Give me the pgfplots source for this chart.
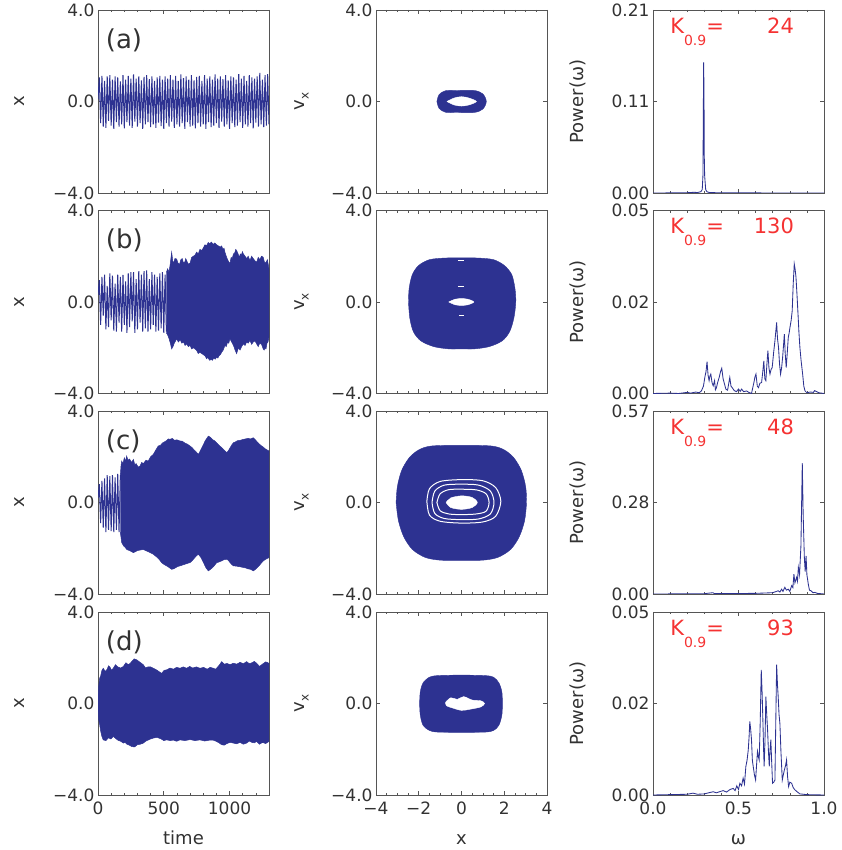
\documentclass[border=0pt]{standalone}
\usepackage{fontspec}
\setmainfont{DejaVu Sans}
\usepackage{pgfplots}
\pgfplotsset{compat=1.18}

\definecolor{trace}{RGB}{45,50,145}
\definecolor{kred}{RGB}{245,50,50}
\definecolor{framegray}{RGB}{85,85,85}
\definecolor{labgray}{RGB}{50,50,50}

\pgfplotsset{
  base/.style={
    scale only axis, width=171pt, height=183pt, anchor=south west,
    axis line style={framegray, line width=0.7pt},
    every tick/.style={framegray, line width=0.6pt},
    major tick length=4pt, minor tick length=2.2pt,
    tick align=inside,
    scaled y ticks=false, scaled x ticks=false,
    tick label style={font=\fontsize{17}{17}\selectfont, text=labgray},
    xticklabel style={inner ysep=1pt, yshift=-6pt},
    yticklabel style={inner ysep=0pt},
    label style={font=\fontsize{18}{18}\selectfont, text=labgray},
    xlabel style={at={(axis description cs:0.5,-0.273)}, anchor=base},
  },
  ts/.style={base, xmin=0, xmax=1300, ymin=-4, ymax=4,
    xtick={0,500,1000}, minor xtick={100,200,...,1300},
    ytick={-4,0,4}, yticklabels={−4.0,0.0,4.0},
    ylabel={x}, ylabel style={at={(axis description cs:-0.456,0.5)}, anchor=center}},
  ph/.style={base, xmin=-4, xmax=4, ymin=-4, ymax=4,
    xtick={-4,-2,0,2,4}, minor xtick={-3.5,-3,...,3.5},
    ytick={-4,0,4}, yticklabels={−4.0,0.0,4.0},
    ylabel={v\raisebox{-4pt}{\fontsize{12}{12}\selectfont x}},
    ylabel style={at={(axis description cs:-0.435,0.5)}, anchor=center}},
  sp/.style={base, xmin=0, xmax=1, ymin=0,
    xtick={0,0.5,1}, minor xtick={0.1,0.2,0.3,0.4,0.6,0.7,0.8,0.9},
    ylabel={Power(ω)},
    ylabel style={at={(axis description cs:-0.439,0.5)}, anchor=center}},
  notx/.style={xticklabels={}},
  trc/.style={trace, line width=0.85pt},
  osc/.style={trace, line width=1.0pt},
  band/.style={fill=trace, draw=trace, line width=0.5pt},
}
\tikzset{
  panel/.style={anchor=base west, inner sep=0pt, text=labgray, font=\fontsize{26}{26}\selectfont},
  kval/.style={inner sep=0pt, text=kred, font=\fontsize{21}{21}\selectfont},
}
\newcommand{\Klabel}[1]{%
  \node[kval, anchor=base west] at (axis description cs:0.10,0.874)
    {K\raisebox{-12pt}{\fontsize{14}{14}\selectfont 0.9}=};
  \node[kval, anchor=base east] at (axis description cs:0.825,0.874) {#1};}

\begin{document}
\begin{tikzpicture}
\path[use as bounding box] (0pt,0pt) rectangle (841pt,850pt);

% ---------------- row (a) ----------------
\begin{axis}[ts, notx, at={(98pt,657pt)}]
\addplot[osc] coordinates {
(0,0.1) (10,1.05) (20,-0.95) (30,1.12) (40,-1.1) (50,0.9) (60,-1.15) (70,1.1) (80,-0.85) (90,1.15)
(100,-1.05) (110,0.95) (120,-1.2) (130,1.1) (140,-0.9) (150,1.05) (160,-1.1) (170,0.88) (180,-1.0) (190,1.15)
(200,-1.18) (210,0.95) (220,-0.9) (230,1.12) (240,-1.05) (250,1.0) (260,-1.15) (270,1.18) (280,-0.88) (290,1.0)
(300,-1.1) (310,1.1) (320,-0.95) (330,0.92) (340,-1.2) (350,1.08) (360,-1.0) (370,1.15) (380,-0.9) (390,0.98)
(400,-1.12) (410,1.1) (420,-1.0) (430,0.9) (440,-1.15) (450,1.05) (460,-0.92) (470,1.12) (480,-1.08) (490,0.95)
(500,-1.2) (510,1.1) (520,-0.95) (530,1.0) (540,-1.1) (550,1.15) (560,-0.88) (570,0.95) (580,-1.15) (590,1.12)
(600,-1.0) (610,0.9) (620,-1.1) (630,1.18) (640,-0.95) (650,1.02) (660,-1.2) (670,1.1) (680,-0.9) (690,0.95)
(700,-1.1) (710,1.15) (720,-1.05) (730,0.92) (740,-1.18) (750,1.08) (760,-0.95) (770,1.12) (780,-1.1) (790,0.9)
(800,-1.0) (810,1.15) (820,-1.2) (830,1.0) (840,-0.9) (850,1.1) (860,-1.12) (870,0.95) (880,-1.05) (890,1.18)
(900,-0.95) (910,1.0) (920,-1.15) (930,1.1) (940,-0.88) (950,0.98) (960,-1.1) (970,1.15) (980,-1.0) (990,0.92)
(1000,-1.2) (1010,1.1) (1020,-0.95) (1030,1.05) (1040,-1.12) (1050,0.95) (1060,-1.05) (1070,1.2) (1080,-0.9) (1090,1.0)
(1100,-1.15) (1110,1.12) (1120,-1.0) (1130,0.9) (1140,-1.1) (1150,1.15) (1160,-0.95) (1170,1.05) (1180,-1.18) (1190,1.0)
(1200,-0.92) (1210,1.1) (1220,-1.1) (1230,1.25) (1240,-1.0) (1250,0.95) (1260,-1.12) (1270,1.15) (1280,-1.05) (1290,1.2)
(1300,-1.0)};
\node[panel] at (axis description cs:0.045,0.79) {(a)};
\end{axis}

\begin{axis}[ph, notx, at={(376pt,657pt)}]
\addplot[fill=trace, draw=trace, smooth] coordinates {
(-1.15,0) (-1.05,0.3) (-0.75,0.47) (-0.2,0.48) (0.6,0.48) (1.0,0.33) (1.16,0) (1.0,-0.33)
(0.6,-0.48) (-0.2,-0.48) (-0.75,-0.47) (-1.05,-0.3) (-1.15,0)};
\addplot[fill=white, draw=white, smooth] coordinates {
(-0.68,0) (-0.35,0.15) (0,0.21) (0.35,0.15) (0.7,0) (0.35,-0.15) (0,-0.2) (-0.35,-0.15) (-0.68,0)};
\end{axis}

\begin{axis}[sp, notx, at={(653pt,657pt)}, ymax=0.21, ytick={0,0.105,0.21}, yticklabels={0.00,0.11,0.21}]
\addplot[trc] coordinates {
(0,0) (0.1,0.0001) (0.2,0.0003) (0.24,0.0008) (0.26,0.0005) (0.28,0.0015) (0.288,0.004)
(0.292,0.02) (0.294,0.08) (0.296,0.15) (0.298,0.12) (0.3,0.04) (0.302,0.02) (0.305,0.012)
(0.308,0.004) (0.315,0.0015) (0.33,0.0005) (0.4,0.0002) (0.5,0.0001) (1,0)};
\Klabel{24}
\end{axis}

% ---------------- row (b) ----------------
\begin{axis}[ts, notx, at={(98pt,456.5pt)}]
\addplot[osc] coordinates {
(0,0.3) (10,0.95) (20,-1.0) (30,1.1) (40,-0.6) (50,1.2) (60,-1.2) (70,0.7) (80,-1.1) (90,1.25)
(100,-0.8) (110,1.15) (120,-1.25) (130,0.8) (140,-1.3) (150,1.2) (160,-0.9) (170,1.1) (180,-1.3) (190,1.18)
(200,-1.0) (210,0.9) (220,-1.35) (230,1.25) (240,-1.1) (250,1.3) (260,-0.85) (270,1.3) (280,-1.35) (290,1.0)
(300,-1.2) (310,1.35) (320,-0.9) (330,1.2) (340,-1.3) (350,1.35) (360,-1.15) (370,1.38) (380,-1.3) (390,1.0)
(400,-1.2) (410,1.3) (420,-1.0) (430,1.2) (440,-1.3) (450,1.1) (460,-1.25) (470,1.25) (480,-1.15) (490,1.3)
(500,-1.35) (510,1.2) (520,-1.3)};
\addplot[band] coordinates {
(520,1.3) (530,1.45) (540,1.3) (550,1.7) (560,2.18) (568,1.8) (575,1.7) (585,1.9) (598,1.88) (608,1.7)
(620,1.65) (630,1.85) (640,1.9) (650,1.7) (660,1.75) (667,1.9) (674,1.81) (687,1.65) (700,1.7) (712,1.95)
(725,2.0) (737,2.05) (750,2.18) (762,2.1) (775,2.3) (787,2.25) (800,2.35) (813,2.5) (826,2.47) (838,2.6)
(850,2.55) (862,2.62) (875,2.52) (888,2.58) (902,2.5) (916,2.45) (930,2.4) (940,2.45) (950,2.3) (958,2.35)
(965,2.18) (975,2.0) (985,1.85) (995,1.75) (1003,1.67) (1012,1.95) (1020,1.9) (1030,2.1) (1040,2.15) (1047,2.3)
(1054,2.25) (1065,2.1) (1075,1.95) (1082,2.1) (1090,2.05) (1098,2.2) (1105,2.1) (1118,2.0) (1130,1.9) (1142,2.0)
(1155,1.81) (1168,2.0) (1180,1.9) (1193,1.8) (1206,1.74) (1218,1.95) (1230,1.85) (1243,2.0) (1256,1.96) (1265,1.75)
(1275,1.7) (1288,1.85) (1300,1.45)
(1300,-1.54) (1292,-1.75) (1285,-1.8) (1277,-2.05) (1270,-2.0) (1263,-2.1) (1256,-2.05) (1243,-1.85) (1230,-1.8) (1218,-1.95)
(1206,-1.83) (1193,-1.7) (1180,-1.75) (1168,-1.85) (1155,-1.68) (1142,-1.8) (1130,-1.75) (1118,-1.9) (1105,-1.83) (1092,-1.95)
(1080,-2.1) (1067,-2.0) (1054,-2.26) (1042,-2.1) (1030,-1.9) (1016,-1.75) (1003,-1.61) (994,-1.8) (985,-1.75) (975,-1.95)
(965,-1.9) (952,-2.1) (940,-2.2) (930,-2.3) (920,-2.35) (911,-2.45) (902,-2.41) (891,-2.5) (880,-2.45) (870,-2.55)
(860,-2.5) (850,-2.55) (840,-2.48) (833,-2.42) (826,-2.48) (813,-2.35) (800,-2.3) (787,-2.25) (775,-2.2) (762,-2.25)
(750,-2.12) (737,-2.05) (725,-2.0) (712,-2.05) (700,-1.9) (687,-1.95) (674,-1.83) (662,-1.9) (650,-1.75) (637,-1.8)
(625,-1.65) (611,-1.75) (598,-1.61) (590,-1.7) (580,-1.8) (570,-1.95) (560,-2.05) (550,-1.8) (540,-1.6) (530,-1.45)
(520,-1.35)};
\node[panel] at (axis description cs:0.045,0.79) {(b)};
\end{axis}

\begin{axis}[ph, notx, at={(376pt,456.5pt)}]
\addplot[fill=trace, draw=trace, smooth] coordinates {
(-2.48,0) (-2.45,0.6) (-2.3,1.2) (-2.0,1.6) (-1.5,1.85) (-0.8,1.92) (0,1.93) (0.8,1.92) (1.5,1.85) (2.0,1.6)
(2.35,1.2) (2.5,0.6) (2.54,0) (2.45,-0.7) (2.25,-1.3) (1.9,-1.7) (1.3,-1.95) (0.6,-2.05) (0,-2.05) (-0.6,-2.05)
(-1.3,-1.95) (-1.9,-1.7) (-2.25,-1.3) (-2.42,-0.7) (-2.48,0)};
\addplot[fill=white, draw=white, smooth] coordinates {
(-0.6,0) (-0.3,0.12) (0,0.15) (0.3,0.12) (0.58,0) (0.3,-0.12) (0,-0.15) (-0.3,-0.12) (-0.6,0)};
\addplot[white, line width=0.9pt] coordinates {(-0.17,1.8) (0.11,1.8)};
\addplot[white, line width=0.9pt] coordinates {(-0.17,0.69) (0.14,0.69)};
\addplot[white, line width=0.9pt] coordinates {(-0.12,-0.59) (0.14,-0.59)};
\end{axis}

\begin{axis}[sp, notx, at={(653pt,456.5pt)}, ymax=0.05, ytick={0,0.025,0.05}, yticklabels={0.00,0.02,0.05}]
\addplot[trc] coordinates {
(0,0) (0.1,0.0001) (0.15,0) (0.2,0.0003) (0.22,0.0001) (0.25,0.0004) (0.27,0.0002) (0.283,0.0007) (0.295,0.002)
(0.303,0.0044) (0.31,0.006) (0.316,0.0087) (0.322,0.005) (0.328,0.0035) (0.333,0.0048) (0.338,0.0053) (0.345,0.003)
(0.352,0.0021) (0.36,0.0035) (0.365,0.001) (0.371,0.0016) (0.378,0.003) (0.387,0.0044) (0.395,0.006) (0.402,0.0069)
(0.41,0.004) (0.418,0.0026) (0.426,0.0012) (0.436,0.0009) (0.442,0.0025) (0.449,0.0044) (0.456,0.002) (0.463,0.0016)
(0.475,0.0008) (0.488,0.0005) (0.5,0.0012) (0.51,0.0006) (0.518,0.0012) (0.53,0.0005) (0.547,0.0007) (0.56,0.0003)
(0.576,0) (0.583,0.0015) (0.59,0.003) (0.596,0.0045) (0.602,0.0053) (0.61,0.002) (0.617,0.0016) (0.625,0.0028)
(0.635,0.003) (0.642,0.006) (0.648,0.0089) (0.654,0.004) (0.66,0.0035) (0.666,0.008) (0.672,0.0117) (0.678,0.007)
(0.684,0.0053) (0.69,0.0065) (0.697,0.0071) (0.705,0.011) (0.713,0.0144) (0.723,0.0194) (0.728,0.015) (0.734,0.0126)
(0.74,0.008) (0.746,0.0053) (0.752,0.007) (0.758,0.0099) (0.763,0.013) (0.768,0.0162) (0.773,0.011) (0.779,0.0071)
(0.785,0.011) (0.791,0.0153) (0.796,0.0165) (0.801,0.0181) (0.808,0.02) (0.814,0.0226) (0.82,0.03) (0.826,0.0354)
(0.831,0.034) (0.836,0.0318) (0.842,0.027) (0.848,0.0217) (0.853,0.017) (0.859,0.0126) (0.866,0.009) (0.875,0.0053)
(0.882,0.002) (0.889,0.0007) (0.9,0.0002) (0.92,0.0004) (0.938,0.0003) (0.945,0.0008) (0.957,0.0005) (0.97,0.0002) (1.0,0)};
\Klabel{130}
\end{axis}

% ---------------- row (c) ----------------
\begin{axis}[ts, notx, at={(98pt,256pt)}]
\addplot[osc] coordinates {
(0,0.2) (10,0.8) (20,-0.9) (30,0.95) (40,-1.1) (50,1.05) (60,-1.3) (70,1.2) (80,-1.2) (90,1.15)
(100,-1.25) (110,1.2) (120,-1.3) (130,1.1) (140,-1.2) (150,1.25) (160,-1.3) (170,1.2)};
\addplot[band] coordinates {
(170,1.2) (175,1.6) (180,1.81) (190,1.7) (200,1.95) (210,1.8) (218,2.03) (228,1.85) (240,1.9) (255,1.75)
(269,1.88) (280,1.65) (290,1.7) (305,1.55) (319,1.59) (332,1.75) (345,1.7) (365,1.85) (382,1.81) (400,2.0)
(420,2.1) (440,2.3) (458,2.47) (475,2.5) (490,2.6) (505,2.65) (520,2.7) (535,2.78) (547,2.76) (565,2.8)
(580,2.72) (600,2.74) (623,2.69) (640,2.68) (660,2.6) (680,2.55) (699,2.47) (715,2.4) (730,2.3) (748,2.2)
(763,2.1) (777,2.25) (790,2.4) (803,2.55) (815,2.7) (827,2.8) (839,2.9) (855,2.85) (870,2.75) (886,2.7)
(902,2.61) (920,2.5) (940,2.4) (958,2.3) (978,2.18) (990,2.25) (1000,2.35) (1015,2.5) (1029,2.61) (1045,2.65)
(1060,2.7) (1082,2.72) (1105,2.76) (1122,2.78) (1140,2.8) (1160,2.78) (1181,2.83) (1195,2.75) (1210,2.65) (1227,2.55)
(1244,2.47) (1257,2.42) (1270,2.35) (1285,2.3) (1300,2.25)
(1300,-2.41) (1285,-2.45) (1270,-2.5) (1257,-2.55) (1244,-2.63) (1227,-2.75) (1210,-2.85) (1195,-2.93) (1181,-2.99) (1160,-2.92)
(1140,-2.9) (1122,-2.86) (1105,-2.84) (1088,-2.82) (1070,-2.8) (1050,-2.78) (1029,-2.77) (1015,-2.7) (1000,-2.6) (990,-2.52)
(978,-2.48) (958,-2.5) (940,-2.55) (920,-2.6) (902,-2.63) (886,-2.75) (870,-2.85) (855,-2.92) (839,-2.99) (820,-2.85)
(800,-2.6) (782,-2.4) (763,-2.26) (745,-2.35) (730,-2.45) (715,-2.55) (699,-2.63) (680,-2.66) (660,-2.7) (640,-2.74)
(623,-2.77) (605,-2.8) (590,-2.85) (575,-2.9) (560,-2.92) (545,-2.86) (530,-2.8) (515,-2.75) (500,-2.7) (484,-2.63)
(467,-2.5) (450,-2.4) (435,-2.33) (420,-2.26) (400,-2.2) (382,-2.15) (362,-2.1) (344,-2.05) (320,-2.08) (300,-2.1)
(285,-2.15) (269,-2.19) (255,-2.15) (240,-2.1) (228,-2.08) (218,-2.05) (205,-1.95) (195,-1.9) (180,-1.75) (170,-1.3)};
\node[panel] at (axis description cs:0.045,0.79) {(c)};
\end{axis}

\begin{axis}[ph, notx, at={(376pt,256pt)}]
\addplot[fill=trace, draw=trace, smooth] coordinates {
(-3.06,0) (-3.0,0.7) (-2.8,1.4) (-2.45,1.95) (-2.0,2.3) (-1.4,2.47) (0,2.5) (1.4,2.47) (2.0,2.3) (2.45,1.95)
(2.8,1.4) (3.0,0.7) (3.04,0) (2.95,-0.8) (2.7,-1.5) (2.3,-2.05) (1.7,-2.4) (1.0,-2.52) (0,-2.53) (-1.0,-2.52)
(-1.7,-2.4) (-2.3,-2.05) (-2.7,-1.5) (-2.95,-0.8) (-3.06,0)};
\addplot[white, line width=1pt, smooth] coordinates {
(-1.62,0.05) (-1.5,0.6) (-1.0,0.92) (0,1.0) (1.0,0.95) (1.6,0.65) (1.84,0.05) (1.6,-0.6) (1.0,-0.85)
(0,-0.9) (-1.0,-0.82) (-1.5,-0.55) (-1.62,0.05)};
\addplot[white, line width=1pt, smooth] coordinates {
(-1.38,0) (-1.25,0.5) (-0.8,0.76) (0,0.8) (0.8,0.76) (1.35,0.5) (1.52,0) (1.35,-0.5) (0.8,-0.72)
(0,-0.75) (-0.8,-0.7) (-1.25,-0.48) (-1.38,0)};
\addplot[white, line width=1pt, smooth] coordinates {
(-1.15,0) (-1.0,0.38) (-0.6,0.56) (0,0.58) (0.7,0.55) (1.15,0.38) (1.29,0) (1.15,-0.38) (0.7,-0.5)
(0,-0.53) (-0.6,-0.5) (-1.0,-0.36) (-1.15,0)};
\addplot[fill=white, draw=white, smooth] coordinates {
(-0.72,0) (-0.5,0.2) (0,0.29) (0.5,0.22) (0.74,0) (0.5,-0.22) (0,-0.3) (-0.5,-0.22) (-0.72,0)};
\end{axis}

\begin{axis}[sp, notx, at={(653pt,256pt)}, ymax=0.57, ytick={0,0.285,0.57}, yticklabels={0.00,0.28,0.57}]
\addplot[trc] coordinates {
(0,0) (0.2,0.0005) (0.3,0.001) (0.35,0.004) (0.36,0.001) (0.5,0.0015) (0.6,0.002) (0.7,0.004) (0.732,0.01)
(0.742,0.006) (0.752,0.015) (0.76,0.008) (0.771,0.021) (0.78,0.012) (0.791,0.015) (0.8,0.008) (0.811,0.026)
(0.818,0.02) (0.824,0.062) (0.83,0.035) (0.84,0.052) (0.845,0.04) (0.85,0.083) (0.857,0.06) (0.865,0.15)
(0.873,0.408) (0.878,0.25) (0.885,0.114) (0.89,0.07) (0.895,0.119) (0.9,0.06) (0.908,0.031) (0.915,0.012)
(0.924,0.01) (0.935,0.004) (0.947,0.005) (0.96,0.002) (1,0)};
\Klabel{48}
\end{axis}

% ---------------- row (d) ----------------
\begin{axis}[ts, at={(98pt,55pt)}, xticklabels={0,500,1000}, xlabel={time}]
\addplot[band] coordinates {
(0,0.2) (5,0.74) (12,1.1) (20,1.2) (30,1.45) (40,1.54) (55,1.4) (70,1.5) (80,1.65) (90,1.6) (103,1.45)
(116,1.54) (133,1.7) (150,1.6) (172,1.55) (193,1.62) (212,1.78) (230,1.7) (244,1.75) (256,1.83) (275,1.95)
(294,1.91) (308,1.85) (320,1.8) (332,1.75) (345,1.69) (362,1.55) (380,1.6) (400,1.6) (421,1.54) (435,1.5)
(450,1.45) (467,1.38) (484,1.32) (503,1.45) (522,1.47) (548,1.55) (573,1.5) (598,1.58) (623,1.54) (648,1.6)
(674,1.54) (697,1.62) (720,1.55) (748,1.6) (775,1.54) (803,1.58) (830,1.5) (853,1.58) (877,1.54) (895,1.5)
(910,1.6) (925,1.7) (940,1.83) (960,1.72) (980,1.75) (1005,1.7) (1029,1.76) (1055,1.72) (1080,1.8) (1105,1.74)
(1130,1.83) (1150,1.74) (1170,1.78) (1188,1.84) (1206,1.76) (1228,1.62) (1250,1.72) (1275,1.82) (1300,1.76)
(1300,-1.66) (1275,-1.75) (1250,-1.7) (1228,-1.78) (1206,-1.66) (1188,-1.72) (1170,-1.7) (1150,-1.64) (1130,-1.73) (1105,-1.78)
(1080,-1.7) (1055,-1.76) (1029,-1.73) (1005,-1.7) (980,-1.75) (960,-1.82) (940,-1.8) (920,-1.72) (902,-1.66) (875,-1.6)
(850,-1.6) (812,-1.64) (775,-1.59) (738,-1.62) (700,-1.58) (660,-1.62) (623,-1.59) (598,-1.65) (573,-1.6) (548,-1.62)
(522,-1.59) (500,-1.62) (480,-1.55) (450,-1.48) (421,-1.51) (400,-1.55) (380,-1.6) (362,-1.65) (345,-1.73) (322,-1.78)
(300,-1.8) (278,-1.9) (256,-1.88) (238,-1.82) (220,-1.78) (205,-1.7) (193,-1.73) (172,-1.65) (150,-1.6) (133,-1.52)
(116,-1.44) (98,-1.55) (80,-1.5) (60,-1.62) (40,-1.59) (30,-1.45) (20,-1.2) (12,-0.9) (5,-0.71) (0,-0.2)};
\node[panel] at (axis description cs:0.045,0.79) {(d)};
\end{axis}

\begin{axis}[ph, at={(376pt,55pt)}, xticklabels={−4,−2,0,2,4}, xlabel={x}]
\addplot[fill=trace, draw=trace, smooth] coordinates {
(-1.96,0) (-1.93,0.5) (-1.8,0.9) (-1.5,1.15) (-1.1,1.22) (0,1.24) (1.1,1.22) (1.5,1.15) (1.75,0.9) (1.89,0.5)
(1.91,0) (1.89,-0.5) (1.75,-0.95) (1.5,-1.18) (1.1,-1.25) (0,-1.26) (-1.1,-1.25) (-1.5,-1.18) (-1.8,-0.95)
(-1.93,-0.5) (-1.96,0)};
\addplot[fill=white, draw=white, smooth] coordinates {
(-0.75,0.05) (-0.5,0.25) (-0.2,0.18) (0.1,0.3) (0.5,0.15) (0.9,0.12) (1.08,0) (0.9,-0.15) (0.4,-0.25)
(0,-0.3) (-0.4,-0.2) (-0.7,-0.1) (-0.75,0.05)};
\end{axis}

\begin{axis}[sp, at={(653pt,55pt)}, ymax=0.05, ytick={0,0.025,0.05}, yticklabels={0.00,0.02,0.05},
  xticklabels={0.0,0.5,1.0}, xlabel={ω}]
\addplot[trc] coordinates {
(0,0) (0.1,0.0001) (0.2,0.0002) (0.234,0.0005) (0.26,0.0002) (0.3,0.0003) (0.352,0.0009) (0.37,0.0006)
(0.41,0.0012) (0.43,0.0008) (0.45,0.0015) (0.469,0.0018) (0.48,0.0012) (0.49,0.0025) (0.5,0.0015) (0.508,0.0032)
(0.518,0.0025) (0.527,0.0046) (0.535,0.003) (0.543,0.0078) (0.55,0.0095) (0.557,0.0123) (0.562,0.016) (0.566,0.0201)
(0.571,0.018) (0.576,0.0151) (0.581,0.0095) (0.586,0.0078) (0.593,0.0055) (0.6,0.0041) (0.606,0.0085) (0.611,0.0119)
(0.616,0.0105) (0.621,0.0096) (0.627,0.02) (0.633,0.0342) (0.638,0.028) (0.643,0.0196) (0.647,0.012) (0.65,0.0078)
(0.655,0.015) (0.66,0.0269) (0.665,0.022) (0.67,0.0178) (0.675,0.012) (0.68,0.0078) (0.684,0.012) (0.689,0.0151)
(0.694,0.009) (0.699,0.0032) (0.706,0.0035) (0.713,0.0041) (0.718,0.02) (0.723,0.0356) (0.728,0.03) (0.732,0.0269)
(0.737,0.022) (0.742,0.0196) (0.748,0.012) (0.756,0.0041) (0.762,0.0055) (0.768,0.0068) (0.775,0.008) (0.781,0.0096)
(0.787,0.005) (0.793,0.0023) (0.8,0.0035) (0.811,0.0032) (0.82,0.002) (0.83,0.0014) (0.845,0.0008) (0.859,0.0003)
(0.9,0.0001) (1,0)};
\Klabel{93}
\end{axis}

\end{tikzpicture}
\end{document}
